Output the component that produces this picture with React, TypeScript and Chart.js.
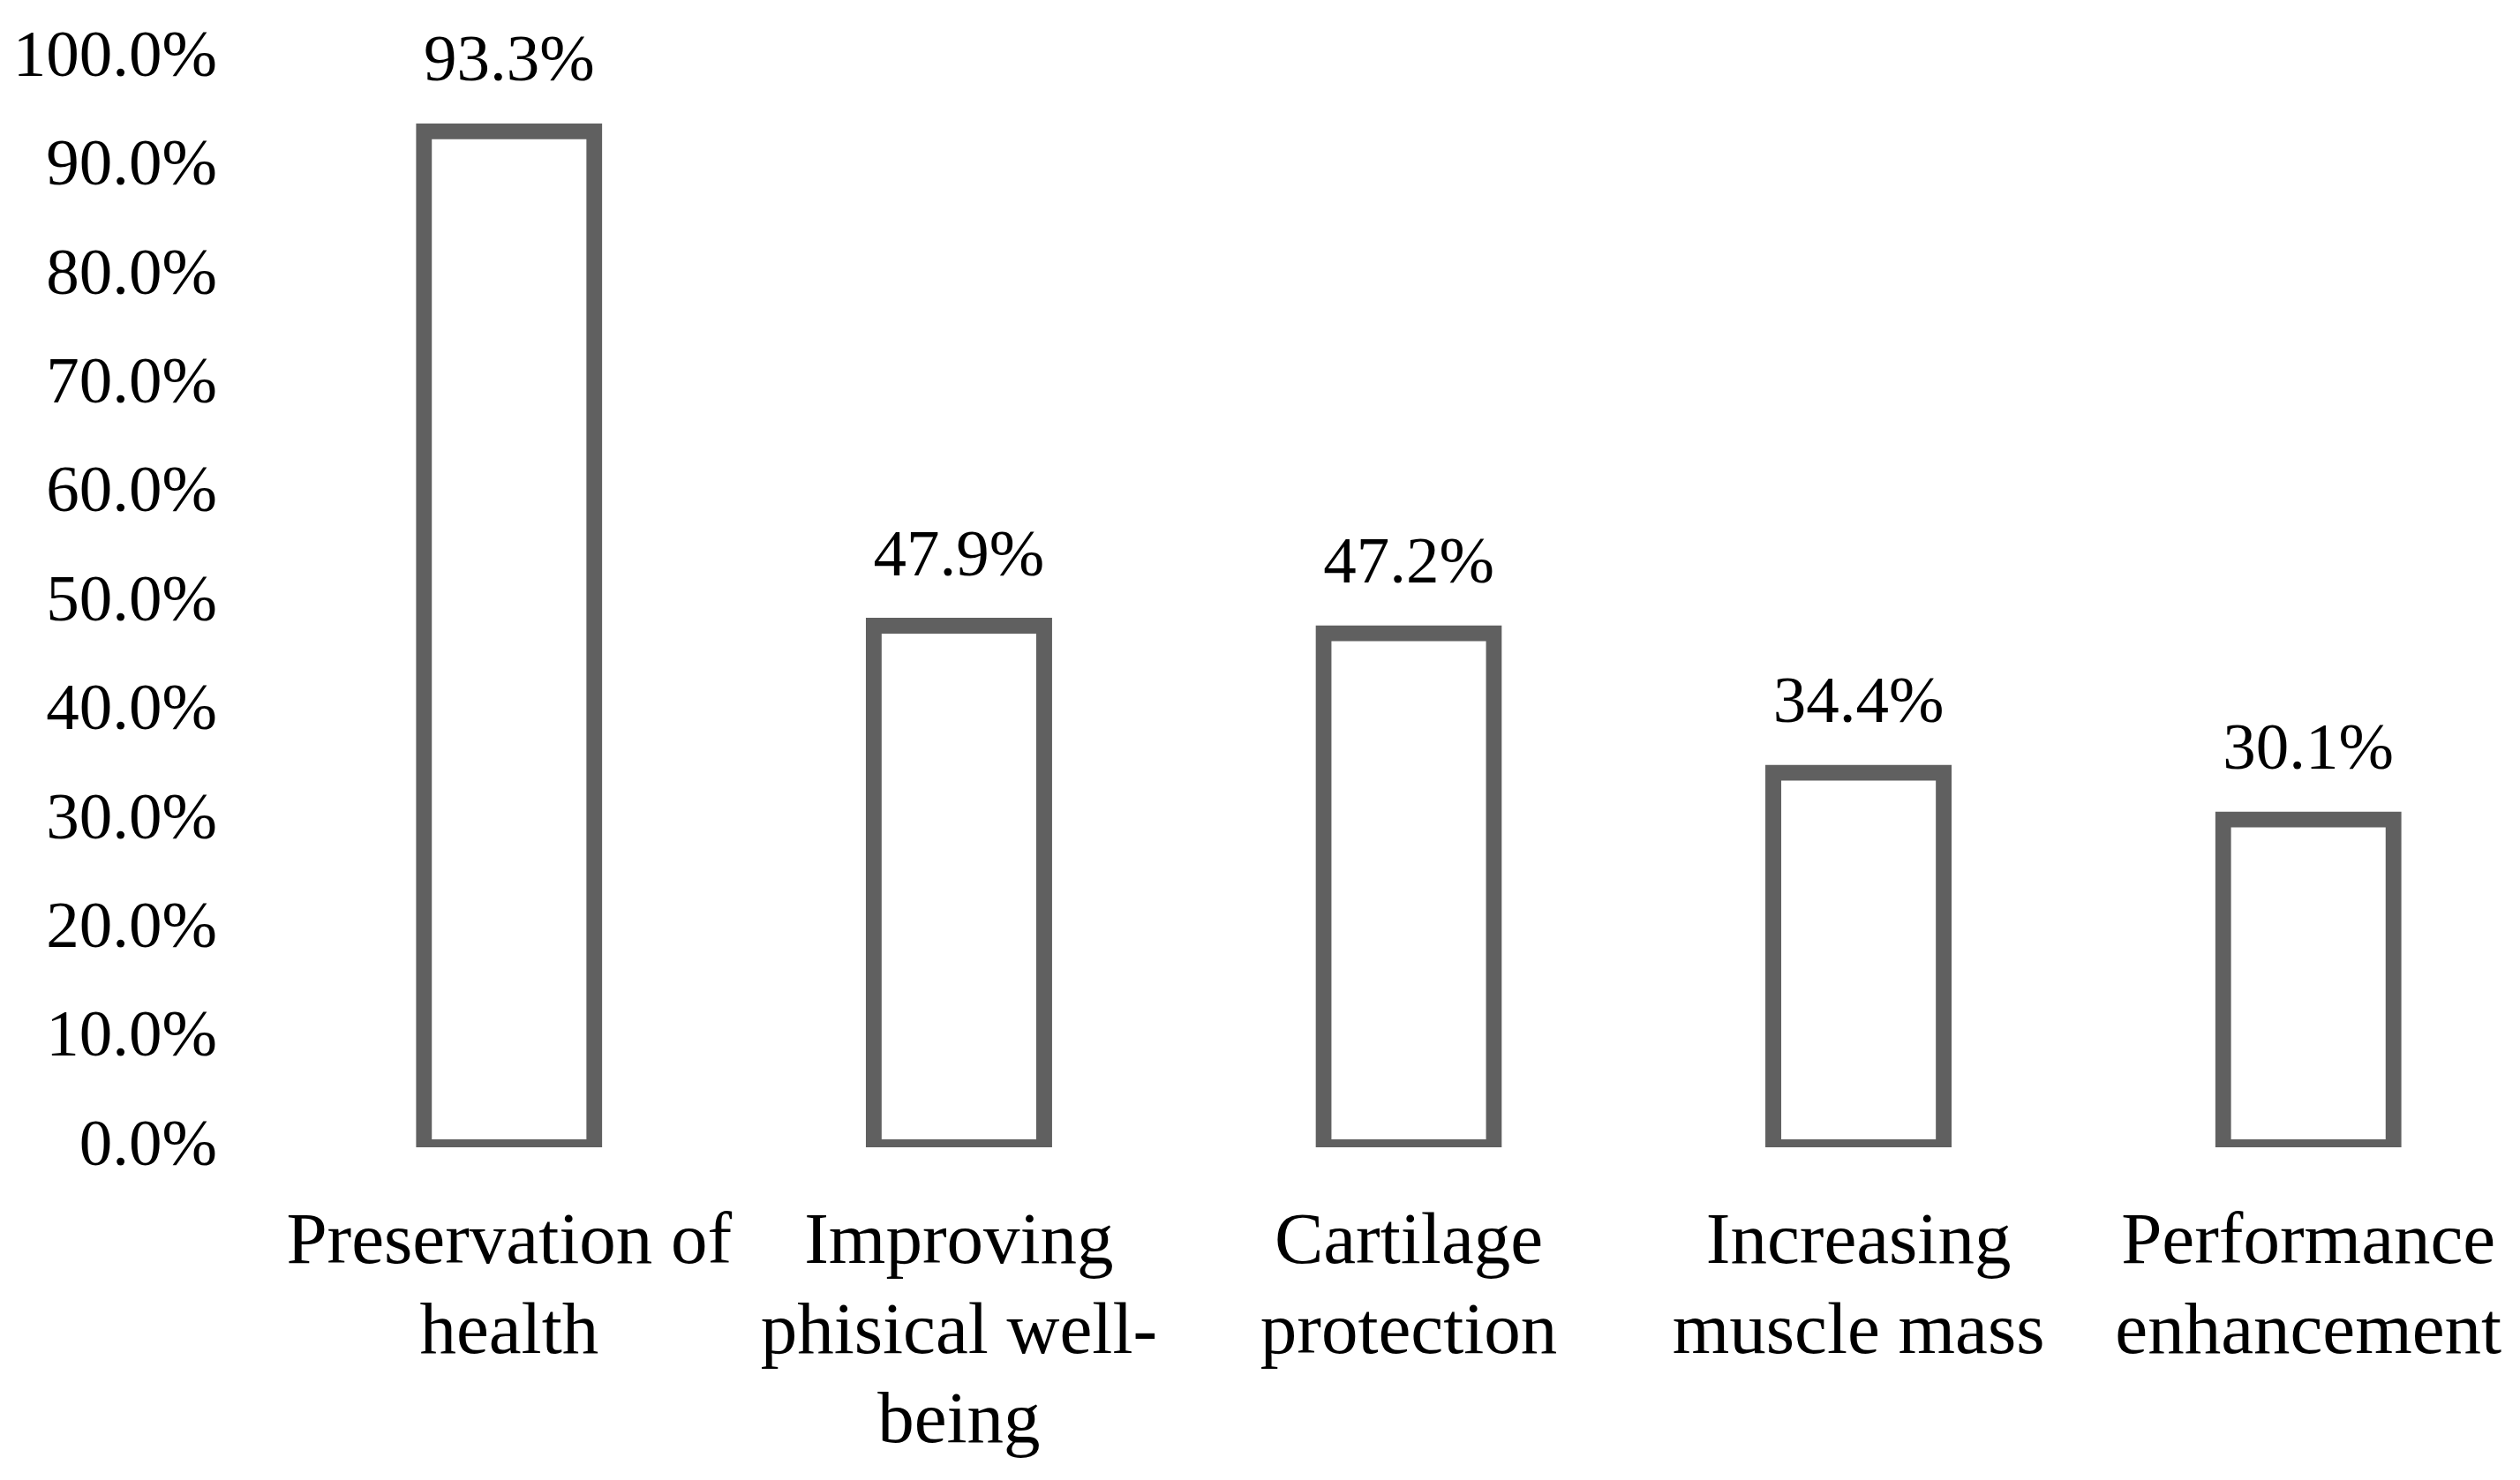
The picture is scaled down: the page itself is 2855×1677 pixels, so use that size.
import React, { useEffect, useRef } from "react";
import { Chart, registerables } from "chart.js";

Chart.register(...registerables);

const categories: string[][] = [
  ["Preservation of", "health"],
  ["Improving", "phisical well-", "being"],
  ["Cartilage", "protection"],
  ["Increasing", "muscle mass"],
  ["Performance", "enhancement"],
];
const values: number[] = [93.3, 47.9, 47.2, 34.4, 30.1];
const yTicks: number[] = [0, 10, 20, 30, 40, 50, 60, 70, 80, 90, 100];

const FONT = "'Liberation Serif', 'Times New Roman', serif";
const W = 2855;
const H = 1677;
const CW = 2870;

const valueLabels = {
  id: "valueLabels",
  afterDatasetsDraw(chart: any) {
    const ctx = chart.ctx;
    const meta = chart.getDatasetMeta(0);
    ctx.save();
    ctx.font = `75px ${FONT}`;
    ctx.fillStyle = "#000000";
    ctx.textAlign = "center";
    ctx.textBaseline = "middle";
    meta.data.forEach((bar: any, i: number) => {
      ctx.fillText(values[i].toFixed(1) + "%", bar.x, bar.y - 77);
    });
    ctx.restore();
  },
};

export default function App() {
  const ref = useRef<HTMLCanvasElement | null>(null);
  useEffect(() => {
    document.body.style.margin = "0";
    document.body.style.overflow = "hidden";
    const canvas = ref.current!;
    const chart = new Chart(canvas, {
      type: "bar",
      data: {
        labels: categories,
        datasets: [
          {
            data: values,
            backgroundColor: "#ffffff",
            borderColor: "#606060",
            borderWidth: 18,
            borderSkipped: false,
            inflateAmount: 9,
            categoryPercentage: 1,
            barPercentage: 0.379,
          },
        ],
      },
      options: {
        animation: false,
        responsive: false,
        devicePixelRatio: 1,
        layout: { padding: { top: 66, right: 0, left: 0, bottom: 0 } },
        plugins: { legend: { display: false }, tooltip: { enabled: false } },
        scales: {
          x: {
            grid: { display: false, drawTicks: false },
            border: { display: false },
            ticks: {
              color: "#000000",
              font: { family: FONT, size: 83, lineHeight: 1.22 },
              padding: 59,
              maxRotation: 0,
              autoSkip: false,
            },
            afterFit: (scale: any) => {
              scale.height = 377;
              scale.paddingLeft = 0;
              scale.paddingRight = 0;
            },
          },
          y: {
            min: 0,
            max: 100,
            grid: { display: false, drawTicks: false },
            border: { display: false },
            afterBuildTicks: (axis: any) => {
              axis.ticks = yTicks.map((v) => ({ value: v }));
            },
            ticks: {
              color: "#000000",
              font: { family: FONT, size: 75 },
              padding: 76,
              callback: (v: any) => Number(v).toFixed(1) + "%",
            },
            afterFit: (scale: any) => {
              scale.width = 322;
              scale.paddingTop = 0;
              scale.paddingBottom = 0;
            },
          },
        },
      },
      plugins: [valueLabels],
    });
    return () => chart.destroy();
  }, []);
  return (
    <div style={{ width: W, height: H, overflow: "hidden", background: "#ffffff" }}>
      <canvas ref={ref} width={CW} height={H} style={{ display: "block" }} />
    </div>
  );
}
